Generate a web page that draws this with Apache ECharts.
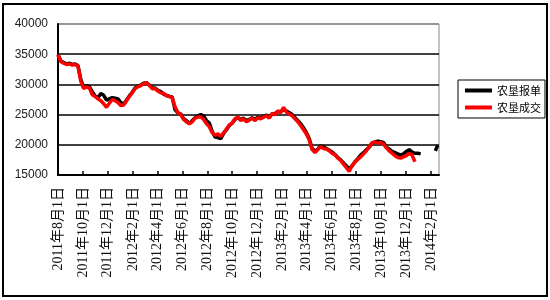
<!DOCTYPE html>
<html><head><meta charset="utf-8">
<script src="https://cdn.jsdelivr.net/npm/echarts@6/dist/echarts.min.js"></script>
<style>html,body{margin:0;padding:0;background:#fff}#c{width:550px;height:300px}</style>
</head><body><div id="c"></div>
<script>
// weekly observations starting at this Monday
const firstWeek = '2011-08-01';
const seriesNames = ['农垦报单', '农垦成交'];
// 农垦成交 (red), weekly values
const dealValues = [
 34900,33800,33500,33300,33400,33200,33300,33000,30500,29300,
 29600,29400,28300,28000,27600,27300,26800,26200,26900,27500,
 27300,27000,26500,26600,27300,28000,28600,29300,29600,29800,
 30100,30300,29800,29300,29300,28900,28600,28500,28100,28000,
 27800,26300,25300,25000,24200,23800,23500,23800,24400,24600,
 24600,24200,23500,23000,22000,21600,21800,21400,22000,22600,
 23300,23600,24300,24600,24000,24300,23800,24100,24400,24000,
 24500,24300,24600,24800,24400,25200,25000,25600,25300,26200,
 25400,25100,24800,24300,23800,23200,22500,21800,20800,19200,
 18700,19200,19700,19400,19300,19000,18600,18300,17800,17400,
 16800,16200,15600,16600,17100,17600,18000,18500,19000,19700,
 20300,20500,20300,20400,20100,19500,19000,18600,18200,17900,
 17800,18000,18200,18600,18300,17200
];
// 农垦报单 (black), weekly values
const quoteValues = [
 34900,33900,33600,33400,33500,33300,33400,33100,30800,29500,
 29800,29600,28800,28100,27800,28500,28200,27400,27600,27800,
 27700,27600,27000,26700,27400,28100,28700,29400,29700,29900,
 30200,30300,29900,29400,29400,29000,28800,28400,28200,28000,
 27900,25800,25300,25100,24300,24000,23500,24000,24500,24800,
 25000,24800,24000,23600,22200,21300,21200,21000,21900,22500,
 23200,23600,24200,24500,24200,24400,24000,24200,24500,24200,
 24600,24400,24700,24900,24600,25100,25200,25500,25500,25800,
 25600,25300,25000,24500,24000,23500,22800,22000,21000,19400,
 18900,19300,19800,19600,19400,19100,18800,18400,17900,17500,
 17000,16500,16000,16500,17200,17700,18300,18700,19200,19600,
 20300,20500,20600,20500,20400,19600,19300,18900,18700,18500,
 18300,18500,18900,19200,18800,18600,18600,18500
];
// late 报单 quotes after the gap
const quoteTailDates = ['2014-02-11', '2014-02-14', '2014-02-17'];
const quoteTailValues = [19000, 19500, 19900];
// x axis tick labels (every two months)
const tickDates = ['2011-08-01','2011-10-01','2011-12-01','2012-02-01','2012-04-01','2012-06-01',
 '2012-08-01','2012-10-01','2012-12-01','2013-02-01','2013-04-01','2013-06-01','2013-08-01',
 '2013-10-01','2013-12-01','2014-02-01'];
const yTicks = [15000, 20000, 25000, 30000, 35000, 40000];

const ts = s => Date.UTC(+s.slice(0, 4), +s.slice(5, 7) - 1, +s.slice(8, 10));
const weekTs = k => ts(firstWeek) + k * 7 * 86400000;
const dealData = dealValues.map((v, k) => [weekTs(k), v]);
const quoteData = quoteValues.map((v, k) => [weekTs(k), v]);
quoteData.push([ts('2014-01-20'), null]);
quoteTailDates.forEach((d, i) => quoteData.push([ts(d), quoteTailValues[i]]));

const chart = echarts.init(document.getElementById('c'), null, {renderer: 'canvas'});
chart.setOption({
  animation: false,
  backgroundColor: '#fff',
  grid: {left: 58, top: 24, right: 111, bottom: 125, show: true, borderColor: '#888', borderWidth: 1},
  legend: {
    orient: 'vertical', left: 458, top: 80, padding: [5, 4, 5, 7],
    borderColor: '#000', borderWidth: 1, backgroundColor: '#fff',
    itemWidth: 27, itemHeight: 4, itemGap: 6, icon: 'rect',
    textStyle: {fontSize: 11, color: '#000', fontFamily: 'Noto Sans CJK SC'},
    data: seriesNames
  },
  xAxis: {
    type: 'value', min: ts('2011-08-01'), max: ts('2014-02-20'),
    axisLine: {lineStyle: {color: '#000', width: 2}},
    axisTick: {show: true, inside: true, length: 4, lineStyle: {color: '#000', width: 1.5}, customValues: tickDates.map(ts)},
    axisLabel: {
      customValues: tickDates.map(ts), rotate: 90, margin: 12, fontSize: 14, color: '#111',
      fontFamily: 'Liberation Serif, Noto Sans CJK SC', hideOverlap: false,
      formatter: v => { const d = new Date(v); return d.getUTCFullYear() + '年' + (d.getUTCMonth() + 1) + '月' + d.getUTCDate() + '日'; }
    },
    splitLine: {show: false}
  },
  yAxis: {
    type: 'value', min: yTicks[0], max: yTicks[yTicks.length - 1], interval: 5000,
    axisLine: {show: true, lineStyle: {color: '#000', width: 2}},
    axisTick: {show: false},
    axisLabel: {margin: 10, fontSize: 12, color: '#222', fontFamily: 'Liberation Sans, Arial', formatter: v => String(v)},
    splitLine: {show: true, lineStyle: {color: ['#000', '#000', '#000', '#000', '#000', '#888'], width: 1.6}}
  },
  series: [
    {name: seriesNames[0], type: 'line', data: quoteData, showSymbol: false, color: '#000',
     lineStyle: {color: '#000', width: 3.5}, connectNulls: false},
    {name: seriesNames[1], type: 'line', data: dealData, showSymbol: false, color: '#ff0000',
     lineStyle: {color: '#ff0000', width: 3.5}}
  ],
  graphic: [{type: 'rect', shape: {x: 3, y: 4, width: 544, height: 292}, style: {fill: 'none', stroke: '#000', lineWidth: 2}, silent: true}]
});
</script></body></html>
